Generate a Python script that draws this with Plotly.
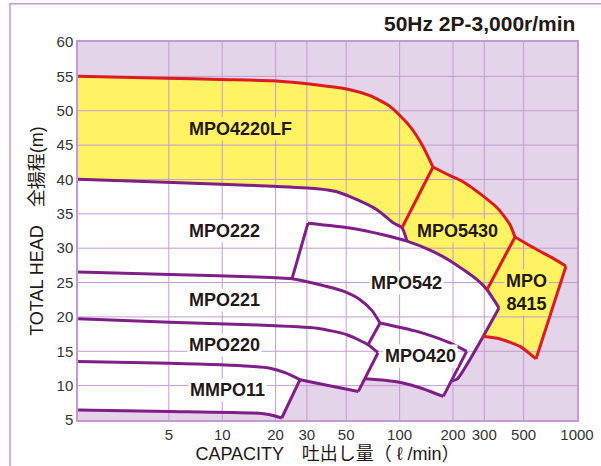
import math
import plotly.graph_objects as go

# ---------------- data (capacity l/min , total head m) ----------------
# red curves (yellow pump zones)
r1_x = [1.54, 4.82, 9.84, 19.3, 27.5, 52.5, 68.1, 88.3, 114.4, 135.5, 154.3]   # MPO4220LF head
r1_y = [55.0, 54.73, 54.54, 54.37, 54.03, 53.06, 52.19, 50.63, 47.72, 44.81, 41.81]
r2_x = [154.3, 103.2]                                                           # MPO4220LF / MPO5430 divider
r2_y = [41.81, 32.98]
r3_x = [154.3, 192.3, 227.7, 283.9, 358.7, 419.1, 447.3]                        # MPO5430 head
r3_y = [41.81, 40.55, 39.67, 37.93, 35.75, 33.42, 31.63]
r4_x = [447.3, 311.0]                                                           # MPO5430 / MPO8415 divider
r4_y = [31.63, 23.96]
r5_x = [447.3, 595.0, 722.9, 866.9]                                             # MPO8415 head
r5_y = [31.63, 29.78, 28.62, 27.38]
r6_x = [866.9, 587.3]                                                           # MPO8415 right side
r6_y = [27.38, 13.88]
r7_x = [587.3, 477.1, 368.1, 291.4]                                             # MPO8415 bottom
r7_y = [13.88, 15.71, 16.79, 17.17]

# purple curves (white pump zones)
l1_x = [1.54, 4.82, 9.84, 19.34, 34.22, 43.2, 52.52, 74.59, 91.8, 103.2, 110.1]  # MPO222 head
l1_y = [40.04, 39.60, 39.31, 39.02, 38.66, 38.29, 37.49, 35.60, 33.71, 32.98, 31.02]
l2_x = [30.45, 52.52, 80.62, 110.1, 148.4, 192.3, 273.1, 311.0, 363.4]           # MPO542 head
l2_y = [33.64, 32.94, 31.96, 31.02, 29.71, 28.18, 25.42, 23.96, 21.30]
l3_x = [363.4, 210.7, 197.4]                                                     # MPO542 right side
l3_y = [21.30, 10.94, 10.72]
l4_x = [30.45, 24.75]                                                            # MPO542 left side
l4_y = [33.64, 25.56]
l5_x = [1.54, 5.08, 14.35, 24.75, 35.58, 47.35, 59.83, 69.89, 77.55]             # MPO221 head
l5_y = [26.54, 26.17, 25.85, 25.56, 24.69, 23.81, 22.51, 20.91, 19.12]
l6_x = [77.55, 66.37]                                                            # MPO221 right side
l6_y = [19.12, 15.96]
l7_x = [1.54, 5.08, 14.35, 34.22, 50.51, 66.37, 75.56]                           # MPO220 head
l7_y = [19.74, 19.23, 18.87, 18.36, 17.41, 15.96, 14.79]
l8_x = [75.56, 58.52]                                                            # MPO220 right side
l8_y = [14.79, 9.16]
l9_x = [27.45, 38.96, 58.52]                                                     # MPO220 bottom
l9_y = [10.87, 10.07, 9.16]
l10_x = [1.54, 5.08, 14.35, 18.60, 22.59, 27.45]                                 # MMPO11 head
l10_y = [13.53, 13.27, 12.83, 12.54, 11.88, 10.87]
l11_x = [27.45, 21.65]                                                           # MMPO11 right side
l11_y = [10.87, 5.29]
l12_x = [1.54, 5.08, 14.92, 18.60, 21.65]                                        # MMPO11 bottom
l12_y = [6.45, 6.25, 6.02, 5.77, 5.29]
l13_x = [77.55, 125.3, 192.3, 238.9]                                             # MPO420 head
l13_y = [19.12, 17.89, 16.21, 14.98]
l14_x = [238.9, 176.3]                                                           # MPO420 right side
l14_y = [14.98, 8.44]
l15_x = [63.83, 82.75, 104.5, 130.3, 176.3]                                      # MPO420 bottom
l15_y = [11.01, 10.79, 10.39, 9.70, 8.44]

# labels
label_text = ["MPO4220LF", "MPO222", "MPO221", "MPO220", "MMPO11",
              "MPO542", "MPO420", "MPO5430", "MPO<br>8415"]
label_x = [12.68, 10.3, 10.3, 10.3, 10.64, 109.1, 130.3, 212.1, 515.8]
label_y = [47.39, 32.44, 22.51, 15.96, 9.41, 24.88, 14.25, 32.54, 23.60]
label_zone = ["y", "w", "w", "w", "w", "w", "w", "y", "y"]

x_ticks = [5, 10, 20, 30, 50, 100, 200, 300, 500, 1000]
y_ticks = [5, 10, 15, 20, 25, 30, 35, 40, 45, 50, 55, 60]

# ---------------- styles ----------------
BG = "#e3d4e9"
GRID = "#c39bd0"
PURPLE = "#7e1e86"
RED = "#dc1b22"
YELLOW = "#fff364"
TXT = "#231815"
FONT = "Liberation Sans, Arial, Noto Sans CJK JP, sans-serif"

fig = go.Figure()

def rev(a):
    return a[::-1]

# white union of the purple zones
wx = (l1_x + l2_x[4:] + l3_x[1:] + [l14_x[-1]] + rev(l15_x)[1:] + [l8_x[-1]]
      + rev(l9_x)[1:] + l11_x[1:] + rev(l12_x)[1:])
wy = (l1_y + l2_y[4:] + l3_y[1:] + [l14_y[-1]] + rev(l15_y)[1:] + [l8_y[-1]]
      + rev(l9_y)[1:] + l11_y[1:] + rev(l12_y)[1:])
fig.add_trace(go.Scatter(x=wx, y=wy, fill="toself", fillcolor="white",
                         line=dict(width=0), mode="lines", hoverinfo="skip"))

# yellow zones
y1x = r1_x + l1_x[9::-1]
y1y = r1_y + l1_y[9::-1]
y2x = r3_x + l2_x[7:2:-1] + [l1_x[9]]
y2y = r3_y + l2_y[7:2:-1] + [l1_y[9]]
y3x = r5_x + r6_x[1:] + r7_x[1:] + [l3_x[0], l2_x[7]]
y3y = r5_y + r6_y[1:] + r7_y[1:] + [l3_y[0], l2_y[7]]
for px, py in [(y1x, y1y), (y2x, y2y), (y3x, y3y)]:
    fig.add_trace(go.Scatter(x=px, y=py, fill="toself", fillcolor=YELLOW,
                             line=dict(width=0), mode="lines", hoverinfo="skip"))

# grid lines drawn over the zones
gx, gy = [], []
for v in x_ticks[:-1]:
    gx += [v, v, None]
    gy += [y_ticks[0], y_ticks[-1], None]
for v in y_ticks[1:-1]:
    gx += [l1_x[0], x_ticks[-1], None]
    gy += [v, v, None]
fig.add_trace(go.Scatter(x=gx, y=gy, mode="lines", line=dict(color=GRID, width=1),
                         hoverinfo="skip"))

# purple outlines
for cx, cy in [(l12_x, l12_y), (l11_x, l11_y), (l10_x, l10_y), (l9_x, l9_y),
               (l8_x, l8_y), (l7_x, l7_y), (l6_x, l6_y), (l5_x, l5_y),
               (l15_x, l15_y), (l14_x, l14_y), (l13_x, l13_y),
               (l4_x, l4_y), (l3_x, l3_y), (l2_x, l2_y), (l1_x, l1_y)]:
    fig.add_trace(go.Scatter(x=cx, y=cy, mode="lines",
                             line=dict(color=PURPLE, width=3, shape="spline", smoothing=0.6),
                             hoverinfo="skip"))

# red outlines
red_segments = [(r1_x, r1_y), (r3_x, r3_y), (r5_x, r5_y), (r6_x, r6_y),
                (r7_x, r7_y), (r2_x, r2_y), (r4_x, r4_y)]
for cx, cy in red_segments:
    fig.add_trace(go.Scatter(x=cx, y=cy, mode="lines",
                             line=dict(color=RED, width=3, shape="spline", smoothing=0.6),
                             hoverinfo="skip"))

for t, x, y, z in zip(label_text, label_x, label_y, label_zone):
    fig.add_annotation(x=math.log10(x), y=y, xref="x", yref="y", text="<b>%s</b>" % t,
                       showarrow=False, font=dict(family=FONT, size=18, color=TXT),
                       bgcolor=(YELLOW if z == "y" else "white"), borderpad=1)

fig.add_annotation(x=1.0, y=1.05, xref="paper", yref="paper",
                   text="<b>50Hz 2P-3,000r/min</b>", showarrow=False,
                   xanchor="right", yanchor="middle",
                   font=dict(family=FONT, size=21, color=TXT))

# outer frame
fig.add_shape(type="rect", xref="paper", yref="paper",
              x0=-0.1363, x1=1.3, y0=-0.5, y1=1.1013,
              line=dict(color=GRID, width=1.5), layer="below")

fig.update_layout(
    template="none",
    width=601, height=466,
    margin=dict(l=78, r=24, t=42, b=46),
    paper_bgcolor="white", plot_bgcolor=BG,
    showlegend=False,
    font=dict(family=FONT, color="#333333"),
)
fig.update_xaxes(type="log", range=[0.187, 3.0], tickvals=x_ticks, automargin=False,
                 ticktext=[str(v) for v in x_ticks], showgrid=False, zeroline=False,
                 showline=True, mirror=True, linecolor=GRID, linewidth=1.5, ticks="",
                 tickfont=dict(size=15, color="#333333"),
                 title=dict(text="CAPACITY　吐出し量（ ℓ /min）", standoff=6,
                            font=dict(size=18, color=TXT)))
fig.update_yaxes(range=[5, 60], tickvals=y_ticks, showgrid=False, zeroline=False,
                 showline=True, mirror=True, linecolor=GRID, linewidth=1.5, ticks="",
                 automargin=False,
                 tickfont=dict(size=15, color="#333333"),
                 title=dict(text="TOTAL HEAD　全揚程(m)", standoff=8,
                            font=dict(size=18, color=TXT)))

fig.write_html("out.html", config={"displayModeBar": False},
               post_script="document.body.style.margin='0px';document.body.style.padding='0px';")
